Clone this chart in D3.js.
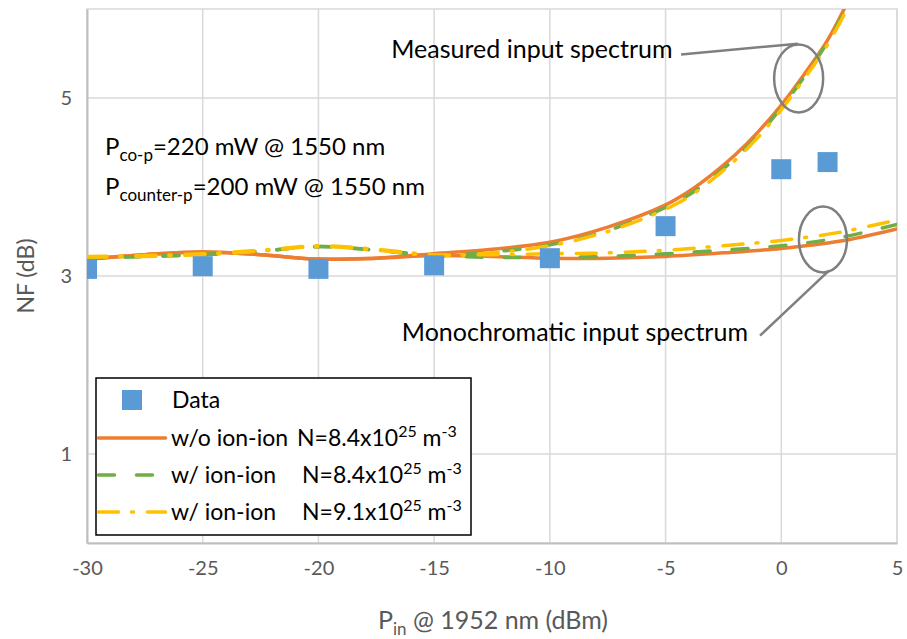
<!DOCTYPE html>
<html>
<head>
<meta charset="utf-8">
<script src="https://cdn.jsdelivr.net/npm/d3@7"></script>
<style>
  body { margin: 0; background: #fff; }
  text { font-family: Lato, "Open Sans", sans-serif; }
</style>
</head>
<body>
<svg id="chart" width="907" height="639"></svg>
<script>
// measured NF data points
const dataX = [-30, -25, -20, -15, -10, -5, 0, 2];
const dataNF = [3.08, 3.11, 3.08, 3.12, 3.2, 3.56, 4.2, 4.28];

// simulated curves, measured input spectrum
const measX = [-30, -27.5, -25, -22.5, -20, -17.5, -15, -12.5, -10, -7.5, -5, -4, -3, -2, -1, 0, 1, 2, 3];
const measWo84 = [3.19, 3.24, 3.27, 3.24, 3.19, 3.2, 3.25, 3.3, 3.38, 3.55, 3.8, 3.95, 4.14, 4.36, 4.62, 4.92, 5.27, 5.65, 6.15];
const measW84 = [3.2, 3.22, 3.24, 3.28, 3.33, 3.29, 3.23, 3.27, 3.35, 3.51, 3.77, 3.91, 4.1, 4.32, 4.58, 4.89, 5.24, 5.63, 6.1];
const measW91 = [3.21, 3.22, 3.24, 3.28, 3.33, 3.29, 3.23, 3.26, 3.34, 3.5, 3.75, 3.89, 4.08, 4.3, 4.56, 4.87, 5.22, 5.6, 6.08];

// simulated curves, monochromatic input spectrum
const monoX = [-30, -27.5, -25, -22.5, -20, -17.5, -15, -12.5, -10, -7.5, -5, -2.5, 0, 2.5, 5];
const monoWo84 = [3.19, 3.24, 3.27, 3.24, 3.19, 3.2, 3.23, 3.22, 3.2, 3.2, 3.22, 3.26, 3.31, 3.39, 3.53];
const monoW84 = [3.2, 3.22, 3.24, 3.28, 3.33, 3.29, 3.23, 3.21, 3.21, 3.22, 3.25, 3.29, 3.34, 3.43, 3.58];
const monoW91 = [3.22, 3.23, 3.25, 3.29, 3.34, 3.3, 3.24, 3.24, 3.25, 3.26, 3.29, 3.34, 3.4, 3.49, 3.63];

const xTicks = [-30, -25, -20, -15, -10, -5, 0, 5];
const yTicks = [1, 3, 5];

const orange = "#ed7d31", green = "#70ad47", yellow = "#ffc000", blue = "#5b9bd5";
const dashGreen = "16,22", dashYellow = "20,13,2,14";

const series = [
  { x: measX, y: measWo84, color: orange, dash: null },
  { x: monoX, y: monoWo84, color: orange, dash: null },
  { x: measX, y: measW84, color: green, dash: dashGreen },
  { x: monoX, y: monoW84, color: green, dash: dashGreen },
  { x: measX, y: measW91, color: yellow, dash: dashYellow },
  { x: monoX, y: monoW91, color: yellow, dash: dashYellow }
];

const svg = d3.select("#chart");
const plotL = 87, plotR = 897, plotT = 9, plotB = 543;

const x = d3.scaleLinear().domain([-30, 5]).range([plotL, plotR]);
const y = d3.scaleLinear().domain([0, 6]).range([plotB, plotT]);

svg.append("clipPath").attr("id", "plot-clip")
  .append("rect")
  .attr("x", plotL).attr("y", plotT)
  .attr("width", plotR - plotL).attr("height", plotB - plotT);

// gridlines
svg.append("g")
  .selectAll("line")
  .data(xTicks)
  .join("line")
  .attr("x1", d => x(d)).attr("x2", d => x(d))
  .attr("y1", plotT).attr("y2", plotB)
  .attr("stroke", "#d9d9d9").attr("stroke-width", 1.5);

svg.append("g")
  .selectAll("line")
  .data(yTicks)
  .join("line")
  .attr("x1", plotL).attr("x2", plotR)
  .attr("y1", d => y(d)).attr("y2", d => y(d))
  .attr("stroke", "#d9d9d9").attr("stroke-width", 1.5);

svg.append("rect")
  .attr("x", plotL).attr("y", plotT)
  .attr("width", plotR - plotL).attr("height", plotB - plotT)
  .attr("fill", "none").attr("stroke", "#d9d9d9").attr("stroke-width", 1.5);

// axes (plain hyphen for negatives, like the original)
const xAxis = svg.append("g")
  .attr("transform", `translate(0,${plotB})`)
  .call(d3.axisBottom(x).tickValues(xTicks).tickFormat(d => String(d))
    .tickSize(0).tickPadding(18));
const yAxis = svg.append("g")
  .attr("transform", `translate(${plotL},0)`)
  .call(d3.axisLeft(y).tickValues(yTicks).tickFormat(d => String(d))
    .tickSize(0).tickPadding(15));

[xAxis, yAxis].forEach(a => {
  a.select(".domain").attr("stroke", "#bfbfbf").attr("stroke-width", 2);
  a.selectAll("text").attr("fill", "#595959").attr("font-size", 20)
    .style("font-family", "Lato, sans-serif");
});

// axis titles
svg.append("text")
  .attr("transform", `translate(28,${(plotT + plotB) / 2}) rotate(-90)`)
  .attr("text-anchor", "middle").attr("dominant-baseline", "middle")
  .attr("fill", "#595959").attr("font-size", 23)
  .text("NF (dB)");

const xt = svg.append("text")
  .attr("x", 493).attr("y", 629)
  .attr("text-anchor", "middle")
  .attr("fill", "#595959").attr("font-size", 25);
xt.append("tspan").text("P");
xt.append("tspan").attr("font-size", 17).attr("dy", 6).text("in");
xt.append("tspan").attr("dy", -6).text(" @ 1952 nm (dBm)");

// curves
const line = d3.line().curve(d3.curveCatmullRom);
const plot = svg.append("g").attr("clip-path", "url(#plot-clip)");

plot.selectAll("path")
  .data(series)
  .join("path")
  .attr("d", s => line(s.x.map((v, i) => [x(v), y(s.y[i])])))
  .attr("fill", "none")
  .attr("stroke", s => s.color)
  .attr("stroke-width", 3.5)
  .attr("stroke-linecap", "round")
  .attr("stroke-dasharray", s => s.dash);

// data markers
const sq = 20;
plot.selectAll("rect")
  .data(dataX)
  .join("rect")
  .attr("x", d => x(d) - sq / 2)
  .attr("y", (d, i) => y(dataNF[i]) - sq / 2)
  .attr("width", sq).attr("height", sq)
  .attr("fill", blue);

// annotations, anchored in data coordinates
const gray = "#7f7f7f";
const ellipses = [
  { cx: 0.75, cy: 5.22, rx: 24.5, ry: 34 },
  { cx: 1.8, cy: 3.41, rx: 24, ry: 33 }
];
svg.append("g").selectAll("ellipse")
  .data(ellipses)
  .join("ellipse")
  .attr("cx", d => x(d.cx)).attr("cy", d => y(d.cy))
  .attr("rx", d => d.rx).attr("ry", d => d.ry)
  .attr("fill", "none").attr("stroke", gray).attr("stroke-width", 2.5);

const leaders = [
  { x1: -4.33, y1: 5.49, x2: 0.72, y2: 5.61 },
  { x1: 2.06, y1: 3.06, x2: -0.92, y2: 2.33 }
];
svg.append("g").selectAll("line")
  .data(leaders)
  .join("line")
  .attr("x1", d => x(d.x1)).attr("y1", d => y(d.y1))
  .attr("x2", d => x(d.x2)).attr("y2", d => y(d.y2))
  .attr("stroke", gray).attr("stroke-width", 2.5);

const labels = [
  { x: -4.7, y: 5.45, text: "Measured input spectrum" },
  { x: -1.44, y: 2.27, text: "Monochromatic input spectrum" }
];
svg.append("g").selectAll("text")
  .data(labels)
  .join("text")
  .attr("x", d => x(d.x)).attr("y", d => y(d.y))
  .attr("text-anchor", "end")
  .attr("font-size", 25).attr("fill", "#000")
  .text(d => d.text);

// pump conditions
const pumps = [
  { sub: "co-p", rest: "=220 mW @ 1550 nm", y: 4.36 },
  { sub: "counter-p", rest: "=200 mW @ 1550 nm", y: 3.91 }
];
pumps.forEach(p => {
  const t = svg.append("text")
    .attr("x", x(-29.22)).attr("y", y(p.y))
    .attr("font-size", 24).attr("fill", "#000");
  t.append("tspan").text("P");
  t.append("tspan").attr("font-size", 17).attr("dy", 6).text(p.sub);
  t.append("tspan").attr("dy", -6).text(p.rest);
});

// legend
const lg = svg.append("g");
lg.append("rect")
  .attr("x", 96).attr("y", 378).attr("width", 375).attr("height", 157)
  .attr("fill", "#fff").attr("stroke", "#000").attr("stroke-width", 1.5);

const legendItems = [
  { type: "marker", label: "Data" },
  { type: "line", color: orange, dash: null, a: "w/o ion-ion", nx: 297, n: "8.4" },
  { type: "line", color: green, dash: dashGreen, a: "w/ ion-ion", nx: 302, n: "8.4" },
  { type: "line", color: yellow, dash: dashYellow, a: "w/ ion-ion", nx: 302, n: "9.1" }
];
const rowY = [400, 438, 475, 512];
legendItems.forEach((it, i) => {
  const cy = rowY[i];
  if (it.type === "marker") {
    lg.append("rect")
      .attr("x", 122).attr("y", cy - 10).attr("width", 20).attr("height", 20)
      .attr("fill", blue);
    lg.append("text").attr("x", 172).attr("y", cy + 8)
      .attr("font-size", 23).text(it.label);
  } else {
    lg.append("line")
      .attr("x1", 98.5).attr("x2", 165.5).attr("y1", cy).attr("y2", cy)
      .attr("stroke", it.color).attr("stroke-width", 3.5)
      .attr("stroke-linecap", "round")
      .attr("stroke-dasharray", it.dash);
    lg.append("text").attr("x", 171).attr("y", cy + 8)
      .attr("font-size", 23).text(it.a);
    const t = lg.append("text").attr("x", it.nx).attr("y", cy + 8)
      .attr("font-size", 23);
    t.append("tspan").text(`N=${it.n}x10`);
    t.append("tspan").attr("font-size", 16).attr("dy", -9).text("25");
    t.append("tspan").attr("dy", 9).text(" m");
    t.append("tspan").attr("font-size", 16).attr("dy", -9).text("-3");
  }
});
</script>
</body>
</html>
